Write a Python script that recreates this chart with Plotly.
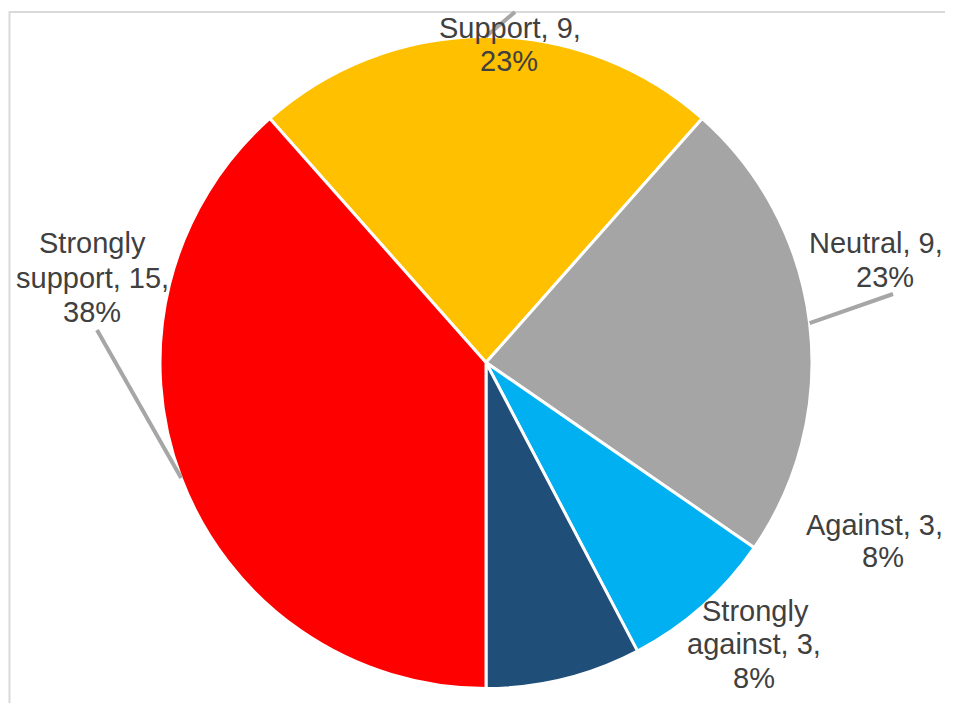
import math
import plotly.graph_objects as go

categories = ["Support", "Neutral", "Against", "Strongly against", "Strongly support"]
values = [9, 9, 3, 3, 15]
colors = ["#FFC000", "#A5A5A5", "#00B0F0", "#1F4E79", "#FF0000"]

# page body has an 8px margin on every side: figure sits at (8, 8) in the window
OFF = 8
W, H = 953 - 2 * OFF, 711 - 2 * OFF
CX, CY, R = 486 - OFF, 362.5 - OFF, 326
total = sum(values)
percents = [round(100 * v / total) for v in values]
rotation = -360 * values[0] / total / 2

fig = go.Figure()
fig.add_trace(go.Pie(
    labels=categories, values=values, sort=False, direction="clockwise",
    rotation=rotation, marker=dict(colors=colors, line=dict(color="white", width=3)),
    textinfo="none", hoverinfo="label+value+percent", showlegend=False,
    domain=dict(x=[(CX - R) / W, (CX + R) / W], y=[1 - (CY + R) / H, 1 - (CY - R) / H]),
))

def px(x):
    return (x - OFF) / W

def py(y):
    return 1 - (y - OFF) / H

# label layout (window pixels): per category -> list of (line text, center x, center y)
label_lines = {
    "Support": [("Support, {v},", 510, 28), ("{p}%", 509, 61)],
    "Neutral": [("Neutral, {v},", 876, 243), ("{p}%", 885, 277)],
    "Against": [("Against, {v},", 874, 525), ("{p}%", 883, 557)],
    "Strongly against": [("Strongly", 755, 611), ("against, {v},", 754, 644), ("{p}%", 754, 678)],
    "Strongly support": [("Strongly", 92, 243), ("support, {v},", 92, 278), ("{p}%", 92, 312)],
}
leader_ends = {"Support": (515, 12), "Neutral": (893, 294), "Strongly support": (97, 330)}

annotations = []
shapes = []
cum = 0
for cat, v, p in zip(categories, values, percents):
    mid = rotation + 360 * (cum + v / 2) / total
    cum += v
    for txt, lx, ly in label_lines[cat]:
        annotations.append(dict(
            text=txt.format(v=v, p=p), x=px(lx), y=py(ly), xref="paper", yref="paper",
            xanchor="center", yanchor="middle", showarrow=False,
            font=dict(family="Liberation Sans, Arial, sans-serif", size=29, color="#404040"),
        ))
    if cat in leader_ends:
        a = math.radians(mid)
        sx = CX + OFF + R * math.sin(a)
        sy = CY + OFF - R * math.cos(a)
        ex, ey = leader_ends[cat]
        shapes.append(dict(type="line", xref="paper", yref="paper",
                           x0=px(sx), y0=py(sy), x1=px(ex), y1=py(ey),
                           line=dict(color="#A6A6A6", width=4), layer="above"))

shapes.insert(0, dict(type="rect", xref="paper", yref="paper",
                      x0=px(9.5), y0=py(12), x1=1.05, y1=-0.05,
                      line=dict(color="#D9D9D9", width=2), layer="below"))

fig.update_layout(
    width=W, height=H, margin=dict(l=0, r=0, t=0, b=0),
    paper_bgcolor="white", plot_bgcolor="white",
    annotations=annotations, shapes=shapes,
)
fig.write_html("out.html")
